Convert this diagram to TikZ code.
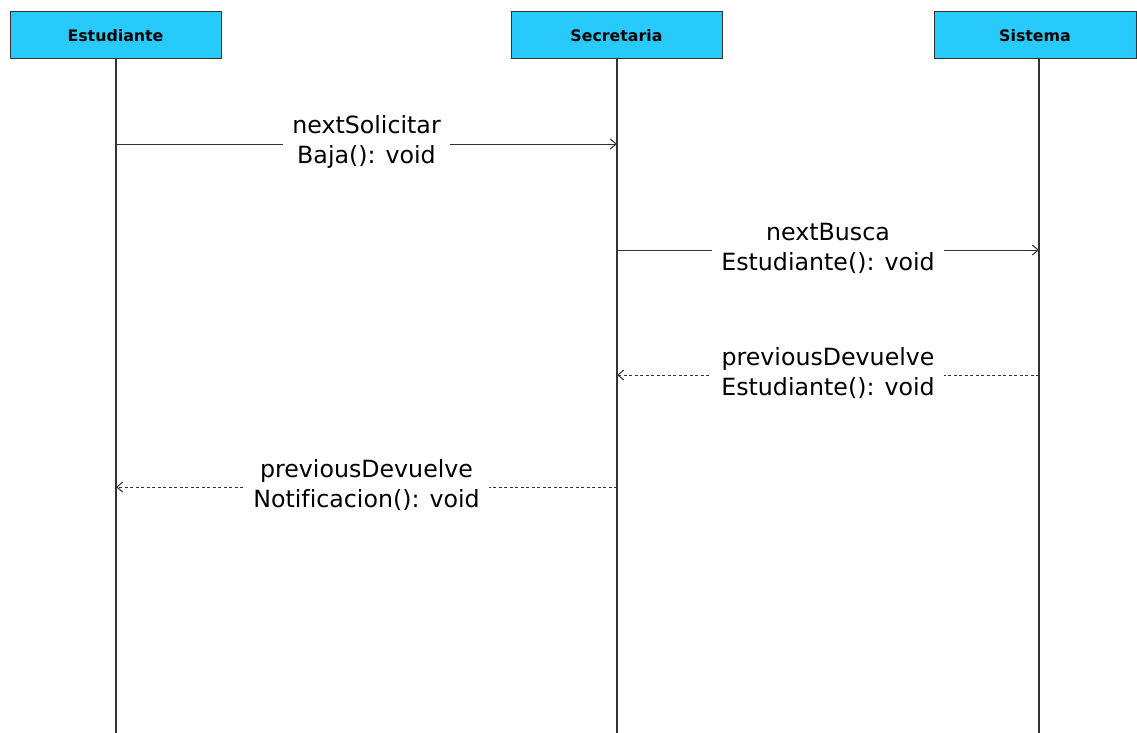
\documentclass[tikz,border=0pt]{standalone}
\usepackage{fontspec}
\setmainfont[Ligatures=NoCommon]{DejaVu Sans}
\usetikzlibrary{arrows.meta}
\definecolor{headfill}{HTML}{27CAFA}
\definecolor{linegray}{HTML}{333333}
\begin{document}
\begin{tikzpicture}[x=1pt,y=-1pt,
  header/.style={draw=linegray,fill=headfill,line width=1pt,minimum height=47pt,
    inner sep=0pt,font=\fontsize{15.8}{19}\selectfont\bfseries},
  lifeline/.style={draw=linegray,line width=1.1pt},
  msg/.style={draw=linegray,line width=1pt,-{Straight Barb[length=6pt,width=10pt]}},
  reply/.style={msg,dash pattern=on 3pt off 2.5pt},
  lbl/.style={fill=white,inner xsep=9pt,inner ysep=1pt,align=center,
    font=\fontsize{23.7}{30}\selectfont}]
  \useasboundingbox (0,0) rectangle (1137,733);

  % participants
  \node[header,minimum width=211pt] (est) at (115.5,35.5) {Estudiante};
  \node[header,minimum width=211pt] (sec) at (616.5,35.5) {Secretaria};
  \node[header,minimum width=202pt] (sis) at (1035,35.5) {Sistema};

  % lifeline ends
  \coordinate (estEnd) at (116,733);
  \coordinate (secEnd) at (617,733);
  \coordinate (sisEnd) at (1039,733);
  \draw[lifeline] (116,59) -- (estEnd);
  \draw[lifeline] (617,59) -- (secEnd);
  \draw[lifeline] (1039,59) -- (sisEnd);

  % message anchors on the lifelines
  \coordinate (e1) at (116,144);
  \coordinate (s1) at (617,144);
  \coordinate (s2) at (617,250);
  \coordinate (t2) at (1039,250);
  \coordinate (t3) at (1039,375);
  \coordinate (s3) at (617,375);
  \coordinate (s4) at (617,487);
  \coordinate (e4) at (116,487);

  % messages
  \draw[msg] (e1) -- (s1);
  \node[lbl] (m1) at (366.5,142) {nextSolicitar\\Baja(): void};

  \draw[msg] (s2) -- (t2);
  \node[lbl] (m2) at (828,248) {nextBusca\\Estudiante(): void};

  \draw[reply] (t3) -- (s3);
  \node[lbl] (m3) at (828,373) {previousDevuelve\\Estudiante(): void};

  \draw[reply] (s4) -- (e4);
  \node[lbl] (m4) at (366.5,485) {previousDevuelve\\Notificacion(): void};
\end{tikzpicture}
\end{document}
